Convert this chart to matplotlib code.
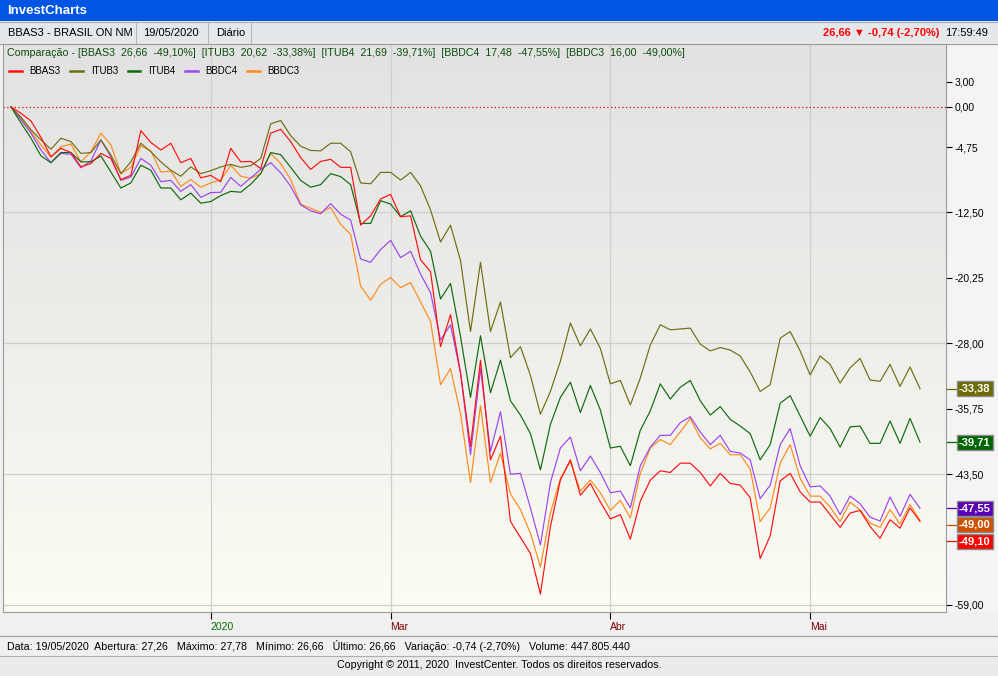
import numpy as np
import matplotlib
matplotlib.use("Agg")
import matplotlib.pyplot as plt
from matplotlib.patches import Rectangle
from matplotlib.colors import LinearSegmentedColormap
from matplotlib import transforms
from matplotlib import font_manager

# --- data: % change since first day, one value per trading day ---
bbas3 = [0, -0.75, -1.66, -3.6, -5.9, -4.9, -5.4, -7.1, -6.7, -5.5,
         -6.1, -8.6, -8.1, -2.8, -4.2, -5.1, -4.3, -6.6, -6.1, -8.4,
         -8.1, -8.85, -4.9, -6.5, -6.45, -7.3, -3.1, -2.65, -4.1, -6.0,
         -7.4, -6.45, -6.2, -7.15, -7.15, -14.0, -12.9, -10.9, -10.35, -13.0,
         -12.9, -18.1, -19.5, -28.4, -24.6, -31.5, -40.2, -30.0, -41.8, -39.0,
         -49.1, -51.0, -52.9, -57.7, -49.7, -44.2, -41.8, -46.0, -44.6, -46.8,
         -48.8, -48.3, -51.2, -46.7, -44.2, -43.1, -43.3, -42.2, -42.2, -43.3,
         -44.9, -43.4, -44.6, -44.8, -46.3, -53.5, -50.8, -44.3, -43.4, -45.6,
         -46.8, -46.8, -48.3, -49.8, -48.1, -47.8, -49.7, -51.1, -48.9, -49.9,
         -47.5, -49.10]
itub3 = [0, -1.2, -2.7, -3.9, -5.0, -3.7, -4.1, -5.5, -5.4, -3.9,
         -5.7, -7.9, -6.5, -4.3, -5.3, -6.5, -7.5, -8.2, -7.1, -7.9,
         -7.55, -7.1, -6.8, -7.15, -6.95, -6.1, -2.0, -1.6, -3.4, -4.65,
         -5.15, -5.2, -4.3, -4.3, -5.3, -9.0, -9.1, -7.75, -7.75, -8.65,
         -7.75, -9.35, -12.2, -16.0, -14.0, -18.2, -26.6, -18.4, -26.6, -23.1,
         -29.7, -28.4, -31.8, -36.4, -33.7, -30.1, -25.6, -28.3, -26.3, -28.6,
         -32.8, -32.4, -35.3, -32.1, -28.2, -25.8, -26.4, -26.3, -26.2, -28.1,
         -28.9, -28.5, -28.8, -29.5, -31.4, -33.7, -32.9, -27.4, -26.6, -28.9,
         -31.75, -29.5, -30.5, -32.7, -30.9, -29.8, -32.35, -32.5, -30.5, -33.1,
         -30.8, -33.38]
itub4 = [0, -1.9, -3.7, -5.8, -6.6, -5.4, -5.4, -6.5, -6.5, -5.8,
         -7.7, -9.6, -9.0, -6.9, -7.5, -9.6, -9.6, -11.0, -10.2, -11.4,
         -11.2, -10.5, -10.0, -10.1, -9.15, -7.9, -5.4, -5.65, -7.15, -8.7,
         -9.5, -9.2, -7.9, -8.25, -9.2, -13.8, -13.8, -11.1, -11.5, -13.0,
         -12.3, -15.3, -17.1, -22.75, -20.9, -27.2, -34.4, -27.1, -33.85, -30.0,
         -34.8, -36.5, -38.7, -43.0, -37.6, -34.4, -32.6, -36.2, -33.0, -35.9,
         -40.4, -40.2, -42.5, -38.3, -36.0, -32.8, -34.6, -33.2, -32.4, -34.8,
         -36.5, -35.5, -37.0, -37.8, -38.7, -41.8, -40.0, -35.1, -34.2, -36.6,
         -39.0, -36.8, -38.1, -40.3, -37.9, -37.8, -39.85, -39.85, -37.2, -39.85,
         -36.9, -39.71]
bbdc4 = [0, -1.5, -3.1, -5.1, -6.6, -5.5, -5.6, -7.2, -6.4, -3.9,
         -5.9, -8.7, -8.3, -6.1, -6.9, -8.85, -8.7, -10.0, -9.2, -10.7,
         -10.15, -10.1, -8.35, -9.4, -8.4, -7.4, -6.6, -7.8, -9.4, -11.6,
         -12.3, -12.65, -11.45, -12.7, -13.4, -18.0, -18.4, -16.9, -15.8, -17.85,
         -17.1, -19.8, -22.0, -27.6, -25.8, -31.5, -41.2, -31.0, -40.8, -36.1,
         -43.5, -43.4, -47.5, -51.9, -44.5, -40.4, -39.1, -43.1, -41.35, -43.3,
         -45.7, -45.5, -47.5, -42.5, -40.3, -38.9, -38.9, -37.4, -36.7, -38.5,
         -40.0, -38.9, -40.8, -41.0, -41.8, -46.4, -44.8, -40.0, -38.1, -42.5,
         -45.0, -44.9, -46.1, -48.3, -46.1, -47.0, -48.6, -49.05, -46.2, -48.5,
         -45.9, -47.55]
bbdc3 = [0, -1.35, -2.9, -4.5, -5.95, -4.7, -4.4, -6.5, -5.3, -3.1,
         -4.5, -7.9, -7.15, -4.6, -5.2, -7.7, -7.6, -9.4, -8.6, -9.5,
         -9.0, -8.65, -6.9, -8.2, -8.45, -7.9, -5.5, -6.7, -8.6, -11.5,
         -12.0, -12.5, -11.9, -13.9, -15.1, -21.2, -22.9, -21.0, -20.2, -21.4,
         -20.8, -23.1, -25.4, -32.9, -31.0, -36.3, -44.5, -35.4, -44.5, -41.0,
         -45.85, -47.7, -50.5, -54.5, -48.1, -44.0, -42.0, -45.5, -44.2, -45.7,
         -47.8, -46.6, -48.7, -43.4, -40.4, -39.4, -40.0, -38.5, -36.9, -39.2,
         -40.5, -39.85, -41.2, -41.2, -42.9, -49.1, -47.5, -42.2, -40.0, -44.0,
         -46.1, -46.1, -47.4, -49.1, -46.8, -47.75, -49.3, -49.8, -47.7, -49.4,
         -47.1, -49.00]

names = ['BBAS3', 'ITUB3', 'ITUB4', 'BBDC4', 'BBDC3']
series = [bbas3, itub3, itub4, bbdc4, bbdc3]
prices = ['26,66', '20,62', '21,69', '17,48', '16,00']
colors = ['#ff1010', '#6e6e12', '#0f6a0f', '#9b45ee', '#ff8a1a']
box_colors = ['#ff0000', '#6b6b00', '#006400', '#5a00b4', '#cc5200']

month_pos = [20, 38, 60, 80]
month_lbl = ['2020', 'Mar', 'Abr', 'Mai']
month_col = ['#007000', '#800000', '#800000', '#800000']
yticks = [3, 0, -4.75, -12.5, -20.25, -28, -35.75, -43.5, -59]
ygrid = [-12.5, -28, -43.5, -59]

W, H = 998, 676
plt.rcParams['font.family'] = ['Liberation Sans', 'DejaVu Sans']
avail = {f.name for f in font_manager.fontManager.ttflist}
narrow = 'Liberation Sans Narrow' if 'Liberation Sans Narrow' in avail else 'Liberation Sans'

def fmt(v):
    return ('%.2f' % v).replace('.', ',')

fig = plt.figure(figsize=(W / 100, H / 100), dpi=100)

# background / window chrome in pixel coords
bg = fig.add_axes([0, 0, 1, 1])
bg.set_xlim(0, W)
bg.set_ylim(H, 0)
bg.axis('off')
bg.add_patch(Rectangle((0, 0), W, H, fc='#f0f0f0', ec='none'))
bg.add_patch(Rectangle((0, 0), W, 21, fc='#0055e5', ec='none'))
bg.text(7, 11, 'InvestCharts', color='white', fontsize=9.5, fontweight='bold', va='center')
bg.add_patch(Rectangle((0, 21), W, 22, fc='#e5e8ea', ec='none'))
bg.plot([0, W], [21.5, 21.5], color='#b0b0b0', lw=0.8)
bg.plot([0, W], [43.5, 43.5], color='#9a9a9a', lw=0.8)
for sx in [136, 208, 251]:
    bg.plot([sx, sx], [22, 43], color='#b8b8b8', lw=0.8)
bg.text(8, 32.5, 'BBAS3 - BRASIL ON NM', fontsize=8, va='center')
bg.text(143, 32.5, '19/05/2020', fontsize=8, va='center')
bg.text(216, 32.5, 'Diário', fontsize=8, va='center')
bg.text(939, 32.5, '26,66 \u25bc -0,74 (-2,70%)', fontsize=8, va='center', ha='right',
        color='#ff0000', fontweight='bold', family=['Liberation Sans', 'DejaVu Sans'])
bg.text(988, 32.5, '17:59:49', fontsize=8, va='center', ha='right')
bg.add_patch(Rectangle((946, 44), W - 946, 568, fc='#f4f4f4', ec='none'))
bg.plot([0, W], [635.5, 635.5], color='#a0a0a0', lw=0.8)
bg.plot([0, W], [655.5, 655.5], color='#b0b0b0', lw=0.8)
bg.add_patch(Rectangle((0, 656), W, 20, fc='#ebebeb', ec='none'))
bg.text(7, 645.5, 'Data: 19/05/2020  Abertura: 27,26   Máximo: 27,78   Mínimo: 26,66   '
        'Último: 26,66   Variação: -0,74 (-2,70%)   Volume: 447.805.440',
        fontsize=7.7, va='center', family=narrow)
bg.text(499, 665.5, 'Copyright © 2011, 2020  InvestCenter. Todos os direitos reservados.',
        fontsize=7.7, va='center', ha='center', family=narrow)

# chart
ax = fig.add_axes([3 / W, 1 - 612 / H, 943 / W, 568 / H])
grad = np.linspace(0, 1, 256).reshape(-1, 1)
cmap = LinearSegmentedColormap.from_list('bgc', ['#e2e2e2', '#ededea', '#fdfdf4'])
ax.imshow(grad, cmap=cmap, extent=[0, 1, 0, 1], transform=ax.transAxes,
          aspect='auto', zorder=0, interpolation='bicubic')

x = np.arange(len(bbas3))
for gy in ygrid:
    ax.axhline(gy, color='#cfcfcf', lw=0.9, zorder=1)
for gx in month_pos:
    ax.axvline(gx, color='#cfcfcf', lw=0.9, zorder=1)
ax.axhline(0, color='#e00000', lw=0.9, ls=(0, (1, 2)), zorder=1)

handles = []
for k in [4, 3, 2, 1, 0]:
    ln, = ax.plot(x, series[k], color=colors[k], lw=0.85, zorder=3 + (4 - k))
    handles.append(ln)
handles = handles[::-1]

ax.set_xlim(-0.8, 93.6)
ax.set_ylim(-59.83, 7.46)

ax.yaxis.tick_right()
ax.set_yticks(yticks)
ax.set_yticklabels([fmt(v) for v in yticks])
ax.tick_params(axis='y', direction='out', length=4, pad=2, labelsize=7.5, width=0.8)
ax.set_xticks(month_pos)
ax.set_xticklabels(month_lbl)
ax.tick_params(axis='x', direction='out', length=5, pad=2, labelsize=7.5, width=0.8)
for lbl, c in zip(ax.get_xticklabels(), month_col):
    lbl.set_ha('left')
    lbl.set_color(c)
    lbl.set_family(narrow)
for sp in ax.spines.values():
    sp.set_color('#9a9a9a')
    sp.set_linewidth(0.8)

# last value boxes on the right axis, pushed apart when they overlap
trans = transforms.blended_transform_factory(ax.transAxes, ax.transData)
order = sorted(range(5), key=lambda k: -series[k][-1])
prev = None
gap = 16.5 / 8.44
for k in order:
    yv = series[k][-1]
    if prev is not None and yv > prev - gap:
        yv = prev - gap
    prev = yv
    ax.plot([1.0, 1.0117], [yv, yv], color=box_colors[k], lw=0.9,
            transform=trans, clip_on=False)
    ax.text(1.0138, yv, fmt(series[k][-1]), transform=trans, color='white',
            fontsize=8, fontweight='bold', va='center', ha='left',
            bbox=dict(boxstyle='square,pad=0.22', fc=box_colors[k], ec='#8a8a8a', lw=1))

# comparison header and legend
comp = 'Comparação - ' + '  '.join('[%s  %s  %s%%]' % (n, p, fmt(s[-1]))
                                    for n, p, s in zip(names, prices, series))
fig.text(7 / W, 1 - 52.5 / H, comp, fontsize=7.7, va='center', color='#0c4d0c')
leg = fig.legend(handles, names, loc='upper left', bbox_to_anchor=(9 / W, 1 - 66 / H),
                 ncol=5, frameon=False, fontsize=7, handlelength=1.3, handletextpad=0.8,
                 columnspacing=1.0, borderpad=0, borderaxespad=0)
for lh in leg.get_lines():
    lh.set_linewidth(1.8)

plt.savefig('out.png', dpi=100)
